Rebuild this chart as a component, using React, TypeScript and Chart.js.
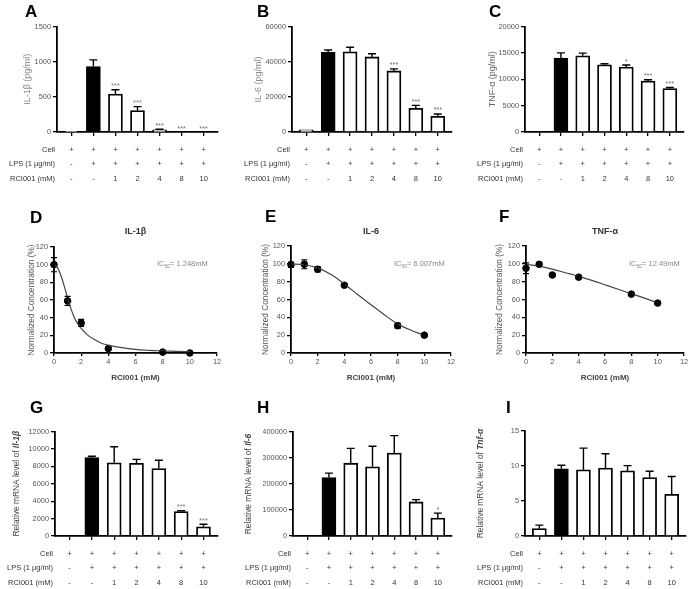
import React, { useEffect, useRef } from 'react';
import { Chart, registerables } from 'chart.js';

Chart.register(...registerables);

const FONT = '"Liberation Sans", Arial, Helvetica, sans-serif';
Chart.defaults.font.family = FONT;

// ---------- table rows shared by bar panels ----------
const cellRow = ['+', '+', '+', '+', '+', '+', '+'];
const lpsRow = ['-', '+', '+', '+', '+', '+', '+'];
const rciRow = ['-', '-', '1', '2', '4', '8', '10'];
const rowLabels = ['Cell', 'LPS (1 μg/ml)', 'RCI001 (mM)'];

// ---------- A: IL-1β protein ----------
const aValues = [10, 930, 540, 305, 30, 0, 0];
const aErrors = [0, 95, 60, 56, 10, 0, 0];
const aSig = ['', '', '***', '***', '***', '***', '***'];
const aTicks = { max: 1500, step: 500 };

// ---------- B: IL-6 protein ----------
const bValues = [1200, 45500, 45800, 42900, 34900, 13500, 9000];
const bErrors = [0, 1400, 2600, 1800, 1200, 1700, 1300];
const bSig = ['', '', '', '', '***', '***', '***'];
const bTicks = { max: 60000, step: 20000 };

// ---------- C: TNF-α protein ----------
const cValues = [0, 14000, 14450, 12750, 12300, 9650, 8250];
const cErrors = [0, 1000, 500, 200, 400, 250, 200];
const cSig = ['', '', '', '', '*', '***', '***'];
const cTicks = { max: 20000, step: 5000 };

// ---------- G: Il-1β mRNA ----------
const gValues = [0, 9000, 8400, 8350, 7750, 2800, 1050];
const gErrors = [0, 150, 1850, 450, 950, 100, 300];
const gSig = ['', '', '', '', '', '***', '***'];
const gTicks = { max: 12000, step: 2000 };

// ---------- H: Il-6 mRNA ----------
const hValues = [0, 225000, 280000, 266000, 319000, 131000, 69000];
const hErrors = [0, 17000, 57000, 79000, 67000, 9000, 19000];
const hSig = ['', '', '', '', '', '', '*'];
const hTicks = { max: 400000, step: 100000 };

// ---------- I: Tnf-α mRNA ----------
const iValues = [1.05, 9.6, 9.45, 9.7, 9.3, 8.35, 5.95];
const iErrors = [0.5, 0.5, 3.1, 2.05, 0.75, 0.9, 2.55];
const iSig = ['', '', '', '', '', '', ''];
const iTicks = { max: 15, step: 5 };

// ---------- D/E/F dose-response ----------
const doseX = [0, 1, 2, 4, 8, 10];
const dMeans = [100, 59, 34, 5, 1, 0];
const dErrors = [8, 5, 4, 1, 0.5, 0.3];
const dCurveX = [0, 0.25, 0.5, 0.75, 1, 1.25, 1.5, 1.75, 2, 2.5, 3, 3.5, 4, 5, 6, 7, 8, 9, 10];
const dCurveY = [100, 97, 88, 76, 62, 50, 40, 33, 28, 20, 15, 11, 9, 6, 4, 3, 2.4, 1.9, 1.5];

const eMeans = [99, 99.5, 94, 76, 30.5, 20];
const eErrors = [3, 5, 3, 1.5, 3, 1];
const eCurveX = [0, 1, 2, 3, 4, 5, 6, 7, 8, 9, 10];
const eCurveY = [100, 99, 95.5, 88, 77.5, 65.5, 54, 43, 32.5, 25.5, 20];

const fMeans = [95, 99.5, 87.5, 85, 66, 56];
const fErrors = [6, 2, 1, 1, 1, 1];
const fCurveX = [0, 1, 2, 3, 4, 5, 6, 7, 8, 9, 10];
const fCurveY = [99.5, 97.5, 94, 90, 86, 81.5, 76.5, 71.5, 66.5, 61.5, 56];

const doseTicks = { xMax: 12, xStep: 2, yMax: 120, yStep: 20 };

type Box = [number, number, number, number];

type BarCfg = {
  kind: 'bar';
  box: Box;
  area: Box;
  letter: string;
  letterPos: [number, number];
  values: number[];
  errors: number[];
  sig: string[];
  yMax: number;
  yStep: number;
  yTitle: string;
  yTitleItalic?: string;
  yTitleX: number;
  yTitleColor: string;
  yTitleSize: number;
};

type CurveCfg = {
  kind: 'curve';
  box: Box;
  area: Box;
  letter: string;
  letterPos: [number, number];
  title: string;
  means: number[];
  errors: number[];
  curveX: number[];
  curveY: number[];
  ic50: string;
  ic50Pos: [number, number];
  yTitleX: number;
};

type Cfg = BarCfg | CurveCfg;

const YW = 30;

const panels: Cfg[] = [
  {
    kind: 'bar', box: [0, 0, 232, 198], area: [57, 26.5, 218, 132], letter: 'A', letterPos: [25, 17],
    values: aValues, errors: aErrors, sig: aSig, yMax: aTicks.max, yStep: aTicks.step,
    yTitle: 'IL-1β (pg/ml)', yTitleX: 28, yTitleColor: '#8a8a8a', yTitleSize: 9,
  },
  {
    kind: 'bar', box: [232, 0, 232, 198], area: [292, 27, 452, 132], letter: 'B', letterPos: [257, 17],
    values: bValues, errors: bErrors, sig: bSig, yMax: bTicks.max, yStep: bTicks.step,
    yTitle: 'IL-6 (pg/ml)', yTitleX: 259, yTitleColor: '#8a8a8a', yTitleSize: 9,
  },
  {
    kind: 'bar', box: [464, 0, 232, 198], area: [525, 26.5, 684, 132], letter: 'C', letterPos: [489, 17],
    values: cValues, errors: cErrors, sig: cSig, yMax: cTicks.max, yStep: cTicks.step,
    yTitle: 'TNF-α (pg/ml)', yTitleX: 493, yTitleColor: '#666', yTitleSize: 9,
  },
  {
    kind: 'curve', box: [0, 198, 232, 192], area: [54, 247, 217, 353], letter: 'D', letterPos: [30, 223],
    title: 'IL-1β', means: dMeans, errors: dErrors, curveX: dCurveX, curveY: dCurveY,
    ic50: '1.248mM', ic50Pos: [157, 266], yTitleX: 32,
  },
  {
    kind: 'curve', box: [232, 198, 232, 192], area: [291, 246, 451, 353], letter: 'E', letterPos: [265, 222],
    title: 'IL-6', means: eMeans, errors: eErrors, curveX: eCurveX, curveY: eCurveY,
    ic50: '6.007mM', ic50Pos: [394, 266], yTitleX: 266,
  },
  {
    kind: 'curve', box: [464, 198, 232, 192], area: [526, 246, 684, 353], letter: 'F', letterPos: [499, 222],
    title: 'TNF-α', means: fMeans, errors: fErrors, curveX: fCurveX, curveY: fCurveY,
    ic50: '12.49mM', ic50Pos: [629, 266], yTitleX: 500,
  },
  {
    kind: 'bar', box: [0, 390, 232, 199], area: [55, 431.5, 218, 536], letter: 'G', letterPos: [30, 413],
    values: gValues, errors: gErrors, sig: gSig, yMax: gTicks.max, yStep: gTicks.step,
    yTitle: 'Relative mRNA level of ', yTitleItalic: 'Il-1β', yTitleX: 17, yTitleColor: '#444', yTitleSize: 8.4,
  },
  {
    kind: 'bar', box: [232, 390, 232, 199], area: [293, 432, 452, 536], letter: 'H', letterPos: [257, 413],
    values: hValues, errors: hErrors, sig: hSig, yMax: hTicks.max, yStep: hTicks.step,
    yTitle: 'Relative mRNA level of ', yTitleItalic: 'Il-6', yTitleX: 249, yTitleColor: '#444', yTitleSize: 8.4,
  },
  {
    kind: 'bar', box: [464, 390, 232, 199], area: [525, 431, 686, 536], letter: 'I', letterPos: [506, 413],
    values: iValues, errors: iErrors, sig: iSig, yMax: iTicks.max, yStep: iTicks.step,
    yTitle: 'Relative mRNA level of ', yTitleItalic: 'Tnf-α', yTitleX: 481, yTitleColor: '#444', yTitleSize: 8.4,
  },
];

function drawText(ctx: CanvasRenderingContext2D, s: string, x: number, y: number, font: string, color: string,
  align: CanvasTextAlign = 'left', baseline: CanvasTextBaseline = 'alphabetic') {
  ctx.font = font;
  ctx.fillStyle = color;
  ctx.textAlign = align;
  ctx.textBaseline = baseline;
  ctx.fillText(s, x, y);
}

function makePlugin(cfg: Cfg) {
  return {
    id: 'decor',
    afterDatasetsDraw(chart: any) {
      const ctx: CanvasRenderingContext2D = chart.ctx;
      const xs = chart.scales.x;
      const ys = chart.scales.y;
      const ox = cfg.box[0];
      const oy = cfg.box[1];
      const [L, T, , B] = cfg.area;
      const ca = chart.chartArea;
      ctx.save();
      // panel letter
      drawText(ctx, cfg.letter, cfg.letterPos[0] - ox, cfg.letterPos[1] - oy, `bold 17px ${FONT}`, '#000');

      if (cfg.kind === 'bar') {
        // error bars (mean + SD)
        ctx.strokeStyle = '#000';
        ctx.lineWidth = 1.4;
        cfg.values.forEach((v, i) => {
          const e = cfg.errors[i];
          const px = xs.getPixelForValue(i);
          const y0 = ys.getPixelForValue(v);
          const y1 = ys.getPixelForValue(v + e);
          if (e > 0) {
            ctx.beginPath();
            ctx.moveTo(px, y0);
            ctx.lineTo(px, y1);
            ctx.moveTo(px - 4, y1);
            ctx.lineTo(px + 4, y1);
            ctx.stroke();
          }
          if (cfg.sig[i]) {
            drawText(ctx, cfg.sig[i], px, y1 - 1.5, `7.5px ${FONT}`, '#777', 'center');
          }
        });
        // treatment table
        const rows = [cellRow, lpsRow, rciRow];
        const rowDy = [18, 32, 47];
        rows.forEach((row, r) => {
          const y = B + rowDy[r] - oy;
          drawText(ctx, rowLabels[r], L - 2 - ox, y, `7.5px ${FONT}`, '#333', 'right', 'middle');
          row.forEach((s, i) => {
            drawText(ctx, s, xs.getPixelForValue(i), y, `7.5px ${FONT}`, '#333', 'center', 'middle');
          });
        });
        // y title
        ctx.save();
        ctx.translate(cfg.yTitleX - ox, (T + B) / 2 - oy);
        ctx.rotate(-Math.PI / 2);
        const f1 = `${cfg.yTitleSize}px ${FONT}`;
        const f2 = `italic bold ${cfg.yTitleSize}px ${FONT}`;
        ctx.font = f1;
        const w1 = ctx.measureText(cfg.yTitle).width;
        let w2 = 0;
        if (cfg.yTitleItalic) {
          ctx.font = f2;
          w2 = ctx.measureText(cfg.yTitleItalic).width;
        }
        const start = -(w1 + w2) / 2;
        drawText(ctx, cfg.yTitle, start, 0, f1, cfg.yTitleColor, 'left', 'middle');
        if (cfg.yTitleItalic) drawText(ctx, cfg.yTitleItalic, start + w1, 0, f2, cfg.yTitleColor, 'left', 'middle');
        ctx.restore();
      } else {
        // error bars (± SD)
        ctx.strokeStyle = '#000';
        ctx.lineWidth = 1.2;
        cfg.means.forEach((m, i) => {
          const e = cfg.errors[i];
          if (e <= 0) return;
          const px = xs.getPixelForValue(doseX[i]);
          const yTop = ys.getPixelForValue(m + e);
          const yBot = ys.getPixelForValue(Math.max(0, m - e));
          ctx.beginPath();
          ctx.moveTo(px, yTop);
          ctx.lineTo(px, yBot);
          ctx.moveTo(px - 3, yTop);
          ctx.lineTo(px + 3, yTop);
          ctx.moveTo(px - 3, yBot);
          ctx.lineTo(px + 3, yBot);
          ctx.stroke();
        });
        const cxm = (ca.left + ca.right) / 2;
        drawText(ctx, cfg.title, cxm, 234 - oy, `bold 9px ${FONT}`, '#333', 'center');
        drawText(ctx, 'RCI001 (mM)', cxm, 380 - oy, `bold 8px ${FONT}`, '#444', 'center');
        // IC50 label
        let x = cfg.ic50Pos[0] - ox;
        const y = cfg.ic50Pos[1] - oy;
        drawText(ctx, 'IC', x, y, `7.5px ${FONT}`, '#888');
        x += ctx.measureText('IC').width;
        drawText(ctx, '50', x, y + 2, `5px ${FONT}`, '#888');
        x += ctx.measureText('50').width;
        drawText(ctx, '= ' + cfg.ic50, x, y, `7.5px ${FONT}`, '#888');
        // y title
        ctx.save();
        ctx.translate(cfg.yTitleX - ox, (T + B) / 2 - oy);
        ctx.rotate(-Math.PI / 2);
        drawText(ctx, 'Normalized Concentration (%)', 0, 0, `8.3px ${FONT}`, '#555', 'center', 'middle');
        ctx.restore();
      }
      ctx.restore();
    },
  };
}

function buildConfig(cfg: Cfg): any {
  const [cx, cy, cw, ch] = cfg.box;
  const [L, T, R, B] = cfg.area;
  const XH = cfg.kind === 'bar' ? 4 : 16;
  const padding = { left: L - cx - YW, top: T - cy, right: cx + cw - R, bottom: cy + ch - B - XH };
  const axisCommon = {
    border: { display: true, color: '#000', width: 1.8 },
    grid: { display: true, drawOnChartArea: false, drawTicks: true, tickLength: 4, color: '#000', lineWidth: 1.3, offset: false },
  };
  const yScale = {
    ...axisCommon,
    type: 'linear',
    min: 0,
    max: cfg.kind === 'bar' ? cfg.yMax : doseTicks.yMax,
    ticks: {
      stepSize: cfg.kind === 'bar' ? cfg.yStep : doseTicks.yStep,
      color: '#555',
      font: { size: 7.4, family: FONT },
      padding: 2,
      callback: (v: number) => String(v),
    },
    afterFit: (s: any) => { s.width = YW; },
  };
  if (cfg.kind === 'bar') {
    return {
      type: 'bar',
      data: {
        datasets: [{
          data: cfg.values.map((v, i) => ({ x: i, y: v })),
          backgroundColor: cfg.values.map((_, i) => (i === 1 ? '#000' : '#fff')),
          borderColor: '#000',
          borderWidth: 1.8,
          barThickness: 14,
          borderSkipped: 'start',
        }],
      },
      options: {
        animation: false,
        responsive: false,
        maintainAspectRatio: false,
        layout: { padding },
        plugins: { legend: { display: false }, tooltip: { enabled: false } },
        scales: {
          x: {
            ...axisCommon,
            type: 'linear',
            offset: false,
            min: -0.65,
            max: 6.65,
            ticks: { display: false },
            afterBuildTicks: (s: any) => { s.ticks = cfg.values.map((_, i) => ({ value: i })); },
            afterFit: (s: any) => { s.height = XH; },
          },
          y: yScale,
        },
      },
      plugins: [makePlugin(cfg)],
    };
  }
  return {
    type: 'scatter',
    data: {
      datasets: [
        {
          type: 'line',
          data: cfg.curveX.map((x, i) => ({ x, y: cfg.curveY[i] })),
          borderColor: '#444',
          borderWidth: 1.2,
          pointRadius: 0,
          cubicInterpolationMode: 'monotone',
          fill: false,
          clip: false,
        },
        {
          type: 'scatter',
          data: doseX.map((x, i) => ({ x, y: cfg.means[i] })),
          backgroundColor: '#000',
          borderColor: '#000',
          pointRadius: 3.3,
          clip: false,
        },
      ],
    },
    options: {
      animation: false,
      responsive: false,
      maintainAspectRatio: false,
      layout: { padding },
      plugins: { legend: { display: false }, tooltip: { enabled: false } },
      scales: {
        x: {
          ...axisCommon,
          type: 'linear',
          min: 0,
          max: doseTicks.xMax,
          grid: { ...axisCommon.grid, tickLength: 3 },
          ticks: { stepSize: doseTicks.xStep, color: '#555', font: { size: 7.4, family: FONT }, padding: 2 },
          afterFit: (s: any) => { s.height = XH; },
        },
        y: yScale,
      },
    },
    plugins: [makePlugin(cfg)],
  };
}

function Panel({ cfg }: { cfg: Cfg }) {
  const ref = useRef<HTMLCanvasElement>(null);
  useEffect(() => {
    if (!ref.current) return;
    const chart = new Chart(ref.current, buildConfig(cfg));
    return () => chart.destroy();
  }, [cfg]);
  const [x, y, w, h] = cfg.box;
  return (
    <canvas
      ref={ref}
      width={w}
      height={h}
      style={{ position: 'absolute', left: x, top: y, width: w, height: h }}
    />
  );
}

export default function App() {
  return (
    <div style={{ position: 'absolute', left: 0, top: 0, width: 696, height: 589, background: '#fff', overflow: 'hidden' }}>
      {panels.map((p) => (
        <Panel key={p.letter} cfg={p} />
      ))}
    </div>
  );
}
